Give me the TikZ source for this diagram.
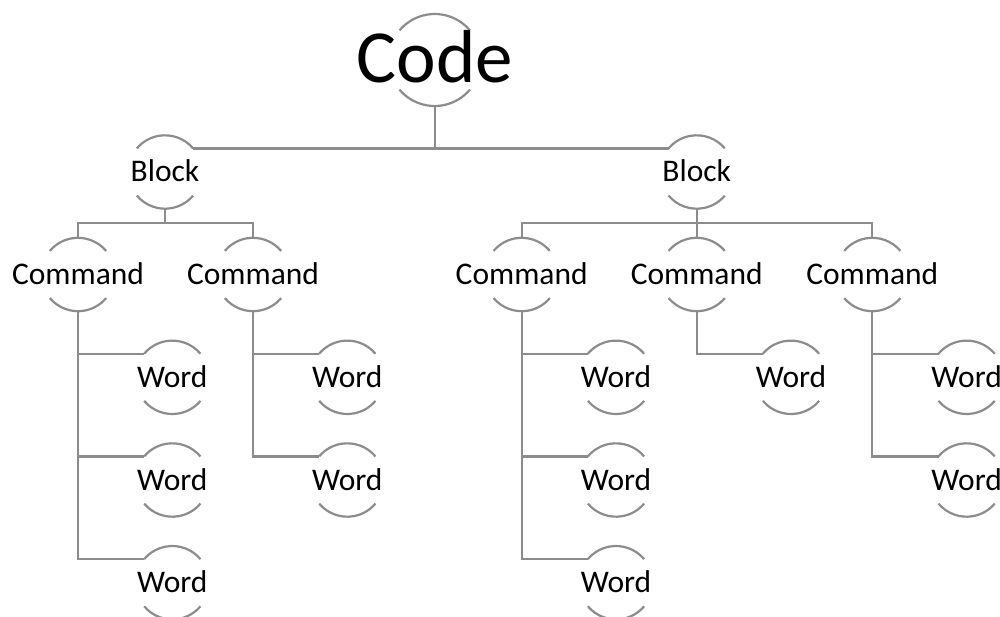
\documentclass[tikz,border=0pt]{standalone}
\usepackage{fontspec}
\setmainfont{Carlito}
\definecolor{lngray}{RGB}{140,140,140}
\tikzset{
  ln/.style={draw=lngray, line width=2.2pt},
  smalltxt/.style={font=\fontsize{31.5}{36}\selectfont, text=black, inner sep=0pt},
  bigtxt/.style={font=\fontsize{75}{86}\selectfont, text=black, inner sep=0pt},
}
% #1 name, #2 position, #3 radius, #4 text style, #5 baseline offset, #6 text
\newcommand\treenode[6]{%
  \node[circle, minimum size=2*#3, inner sep=0pt, outer sep=0pt] (#1) at (#2) {};
  \draw[ln] (#1.40) arc[start angle=40, end angle=140, radius=#3];
  \draw[ln] (#1.220) arc[start angle=220, end angle=320, radius=#3];
  \node[#4, anchor=base] (#1-t) at ([yshift=-#5]#1.center) {#6};
}
\begin{document}
\begin{tikzpicture}[x=1pt, y=-1pt]
\useasboundingbox (0,0) rectangle (1000,616);
% nodes
\treenode{code}{434.7,60}{46pt}{bigtxt}{22pt}{Code}
\treenode{bl}{165,172}{36.7pt}{smalltxt}{9.5pt}{Block}
\treenode{br}{696.7,172}{36.7pt}{smalltxt}{9.5pt}{Block}
% commands
\treenode{c1}{78,274.5}{36.7pt}{smalltxt}{10pt}{Command}
\treenode{c2}{253,274.5}{36.7pt}{smalltxt}{10pt}{Command}
\treenode{c3}{521.7,274.5}{36.7pt}{smalltxt}{10pt}{Command}
\treenode{c4}{696.7,274.5}{36.7pt}{smalltxt}{10pt}{Command}
\treenode{c5}{872.3,274.5}{36.7pt}{smalltxt}{10pt}{Command}
% words
\treenode{w11}{172.3,377.3}{36.7pt}{smalltxt}{10pt}{Word}
\treenode{w12}{172.3,480}{36.7pt}{smalltxt}{10pt}{Word}
\treenode{w13}{172.3,582.7}{36.7pt}{smalltxt}{10pt}{Word}
\treenode{w21}{347.3,377.3}{36.7pt}{smalltxt}{10pt}{Word}
\treenode{w22}{347.3,480}{36.7pt}{smalltxt}{10pt}{Word}
\treenode{w31}{616,377.3}{36.7pt}{smalltxt}{10pt}{Word}
\treenode{w32}{616,480}{36.7pt}{smalltxt}{10pt}{Word}
\treenode{w33}{616,582.7}{36.7pt}{smalltxt}{10pt}{Word}
\treenode{w41}{791,377.3}{36.7pt}{smalltxt}{10pt}{Word}
\treenode{w51}{966.6,377.3}{36.7pt}{smalltxt}{10pt}{Word}
\treenode{w52}{966.6,480}{36.7pt}{smalltxt}{10pt}{Word}
% connectors: code -> blocks
\draw[ln] (bl.40) -- (br.140);
\draw[ln] (code.south) -- (code.south |- bl.40);
% blocks -> commands
\coordinate (busl) at (165,223.3);
\coordinate (busr) at (696.7,223.3);
\draw[ln] (bl.south) -- (busl);
\draw[ln] (c1.north) |- (busl) -| (c2.north);
\draw[ln] (br.south) -- (busr);
\draw[ln] (c3.north) |- (busr) -| (c5.north);
\draw[ln] (busr) -- (c4.north);
% commands -> words
\draw[ln] (c1.south) |- (w13.140);
\draw[ln] (c1.south |- w11.140) -- (w11.140);
\draw[ln] (c1.south |- w12.140) -- (w12.140);
\draw[ln] (c2.south) |- (w22.140);
\draw[ln] (c2.south |- w21.140) -- (w21.140);
\draw[ln] (c3.south) |- (w33.140);
\draw[ln] (c3.south |- w31.140) -- (w31.140);
\draw[ln] (c3.south |- w32.140) -- (w32.140);
\draw[ln] (c4.south) |- (w41.140);
\draw[ln] (c5.south) |- (w52.140);
\draw[ln] (c5.south |- w51.140) -- (w51.140);
\end{tikzpicture}
\end{document}
